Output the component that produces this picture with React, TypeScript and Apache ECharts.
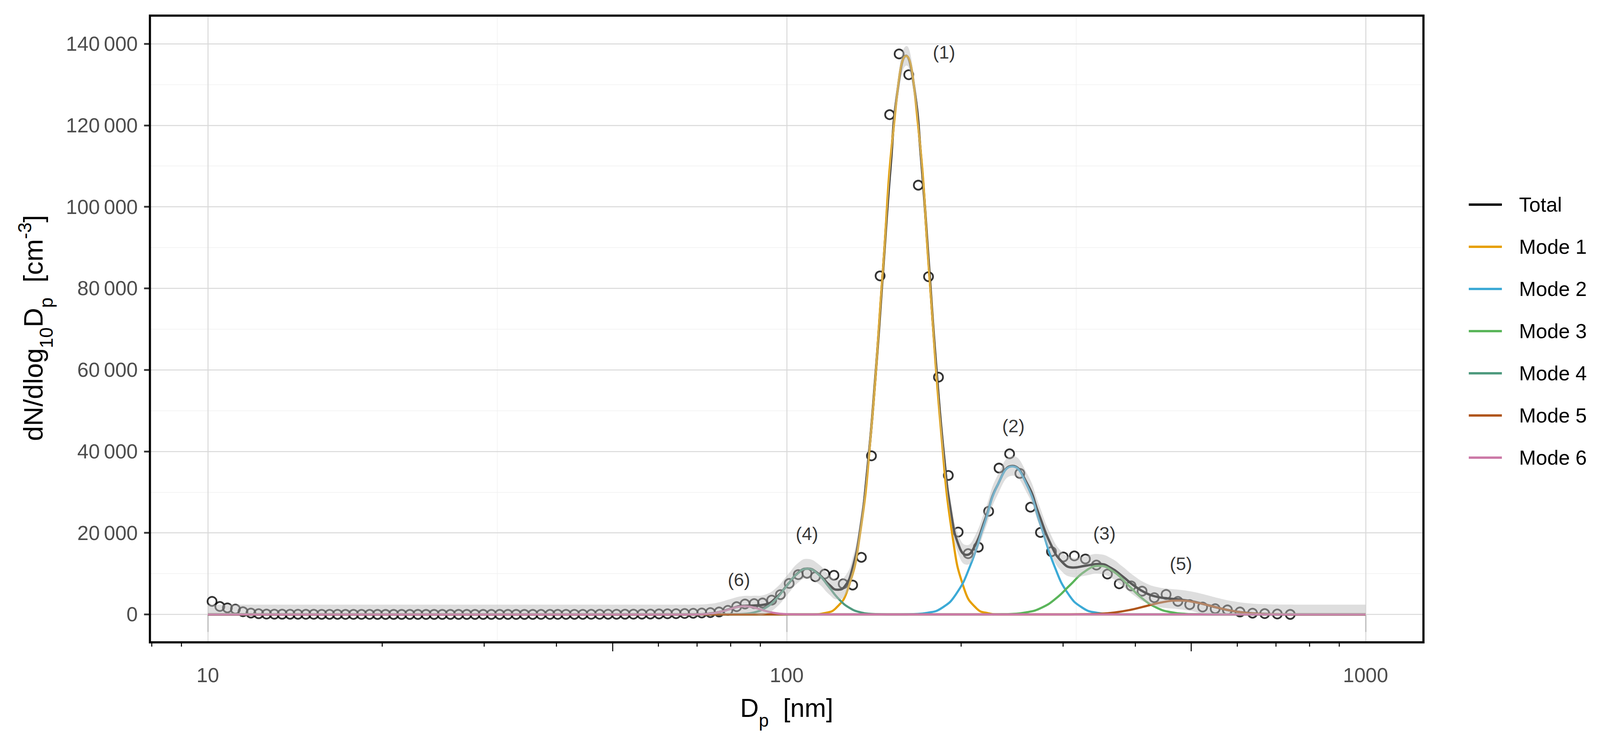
import React, { useEffect, useRef } from 'react'
import * as echarts from 'echarts'

// measured dN/dlog10Dp, open circles (Dp in nm)
const pointDiameters = [
  10.17, 10.49, 10.81, 11.16, 11.5, 11.87, 12.24, 12.63, 13.03, 13.44, 13.87, 14.31, 14.77, 15.24, 15.73, 16.23,
  16.75, 17.29, 17.85, 18.43, 19.03, 19.64, 20.28, 20.94, 21.62, 22.33, 23.06, 23.82, 24.6, 25.41, 26.24, 27.11,
  28.01, 28.94, 29.9, 30.89, 31.92, 32.99, 34.09, 35.23, 36.42, 37.64, 38.99, 40.22, 41.57, 42.98, 44.44, 45.95,
  47.52, 49.14, 50.82, 52.56, 54.36, 56.23, 58.16, 60.17, 62.24, 64.4, 66.63, 68.94, 71.33, 73.82, 76.43, 79.14,
  81.94, 84.72, 87.85, 90.83, 94.2, 97.53, 101.0, 104.7, 108.4, 112.1, 116.3, 120.7, 125.2, 130.0, 134.6, 140.1,
  145.0, 150.6, 156.4, 162.5, 168.8, 175.8, 182.9, 190.2, 197.8, 205.8, 214.3, 223.3, 232.7, 242.7, 252.8, 263.8,
  274.4, 286.7, 300.5, 314.0, 328.1, 342.8, 358.2, 375.4, 393.5, 411.1, 431.5, 452.3, 474.0, 496.8, 523.0, 549.8,
  577.2, 606.8, 637.9, 669.5, 703.9, 741.1,
]
const pointValues = [
  3200, 1950, 1600, 1300, 650, 330, 170, 80, 60, 50, 40, 40, 30, 30, 20, 20,
  20, 10, 10, 10, 10, 0, 0, 0, 0, 0, 0, 0, 0, 0, 0, 0,
  0, 0, 0, 0, 0, 0, 0, 0, 0, 10, 10, 10, 20, 20, 20, 30,
  30, 40, 40, 50, 60, 70, 90, 120, 150, 180, 220, 280, 350, 450, 600, 1000,
  1900, 2550, 2650, 2800, 3500, 4850, 7600, 9750, 10100, 9250, 9900, 9600, 7500, 7200, 14000, 38900,
  83050, 122600, 137500, 132400, 105300, 82850, 58200, 34100, 20200, 14900, 16500, 25300, 35900, 39400, 34600, 26300,
  20100, 15400, 14100, 14350, 13600, 12100, 9900, 7500, 7000, 5700, 4100, 4900, 3200, 2400, 1800, 1400,
  1100, 600, 300, 200, 100, 0,
]

// fitted modes
const mode1Diameters = [10, 110.8, 116.0, 121.6, 127.4, 133.5, 139.8, 146.4, 153.4, 160.8, 168.4, 176.4, 184.9, 193.7, 202.9, 212.6, 222.7, 233.3, 1000]
const mode1Values = [0, 0, 300, 1520, 6010, 18540, 44480, 83090, 120900, 137000, 120900, 83090, 44480, 18540, 6010, 1520, 300, 0, 0]
const mode2Diameters = [10, 156.7, 165.7, 175.3, 185.4, 196.0, 207.3, 219.3, 231.9, 245.3, 259.4, 274.4, 290.2, 306.9, 324.6, 343.3, 363.1, 384.1, 1000]
const mode2Values = [0, 0, 80, 400, 1590, 4910, 11790, 22020, 32030, 36300, 32030, 22020, 11790, 4910, 1590, 400, 80, 0, 0]
const mode3Diameters = [10, 218.6, 231.6, 245.3, 259.8, 275.3, 291.5, 308.8, 327.1, 346.5, 367.0, 388.8, 411.9, 436.2, 462.1, 489.5, 518.4, 549.1, 1000]
const mode3Values = [0, 0, 26, 130, 520, 1610, 3860, 7220, 10500, 11900, 10500, 7220, 3860, 1610, 520, 130, 26, 0, 0]
const mode4Diameters = [10, 77.36, 80.71, 84.22, 87.86, 91.67, 95.64, 99.77, 104.1, 108.6, 113.3, 118.2, 123.3, 128.7, 134.3, 140.1, 146.1, 152.5, 1000]
const mode4Values = [0, 0, 25, 124, 492, 1515, 3637, 6793, 9884, 11200, 9884, 6793, 3637, 1515, 492, 124, 25, 0, 0]
const mode5Diameters = [10, 284.1, 303.0, 323.1, 344.7, 367.6, 392.0, 418.1, 445.9, 475.5, 507.2, 540.9, 576.8, 615.1, 656.0, 699.6, 746.0, 795.6, 1000]
const mode5Values = [0, 0, 7, 38, 149, 460, 1104, 2062, 3000, 3400, 3000, 2062, 1104, 460, 149, 38, 7, 0, 0]
const mode6Diameters = [10, 65.6, 67.7, 69.9, 72.2, 74.5, 76.9, 79.4, 81.9, 84.6, 87.3, 90.1, 93.1, 96.1, 99.2, 102.4, 105.7, 109.1, 1000]
const mode6Values = [0, 0, 4, 22, 88, 271, 649, 1213, 1765, 2000, 1765, 1213, 649, 271, 88, 22, 4, 0, 0]

// total fit and its uncertainty band
const totalDiameters = [
  10, 61.83, 66.69, 69.78, 73.04, 76.43, 79.99, 83.7, 87.59, 91.66, 95.93, 100.4, 105.0, 108.6, 113.3, 118.6,
  122.2, 126.0, 129.8, 133.8, 137.9, 142.2, 146.6, 151.1, 155.7, 160.8, 165.5, 170.6, 175.8, 181.2, 186.8, 192.5,
  198.5, 204.6, 210.9, 220.6, 230.9, 245.3, 260.6, 272.7, 285.4, 298.7, 312.6, 327.0, 346.5, 363.7, 380.6, 398.3,
  416.8, 436.1, 456.4, 477.6, 499.8, 523.0, 555.7, 590.4, 627.3, 666.5, 708.1, 752.4, 1000,
]
const totalValues = [
  0, 0, 2, 21, 139, 562, 1374, 2072, 2171, 2417, 4118, 7331, 10378, 11220, 10003, 7210,
  6052, 6882, 11113, 20318, 35790, 57612, 83785, 109700, 129250, 137030, 130700, 112250, 86930, 60950, 39364, 24577,
  16722, 14600, 16550, 23630, 31470, 36430, 31930, 24570, 17450, 12940, 11497, 11893, 12381, 11354, 9311, 7037,
  5295, 4325, 3909, 3641, 3228, 2604, 1634, 826, 335, 109, 28, 6, 0,
]
const bandLower = [
  0, 0, 0, 0, 0, 0, 0, 0, 0, 17, 1718, 4931, 7978, 8820, 7603, 4810,
  3652, 4482, 8713, 17918, 33390, 55212, 81385, 107300, 126850, 134630, 128300, 109850, 84530, 58550, 36964, 22177,
  14322, 12200, 14150, 21230, 29070, 34030, 29530, 22170, 15050, 10540, 9097, 9493, 9981, 8954, 6911, 4637,
  2895, 1925, 1509, 1241, 828, 204, 0, 0, 0, 0, 0, 0, 0,
]
const bandUpper = [
  2400, 2400, 2402, 2421, 2539, 2962, 3774, 4472, 4571, 4817, 6518, 9731, 12778, 13620, 12403, 9610,
  8452, 9282, 13513, 22718, 38190, 60012, 86185, 112100, 131650, 139430, 133100, 114650, 89330, 63350, 41764, 26977,
  19122, 17000, 18950, 26030, 33870, 38830, 34330, 26970, 19850, 15340, 13897, 14293, 14781, 13754, 11711, 9437,
  7695, 6725, 6309, 6041, 5628, 5004, 4034, 3226, 2735, 2509, 2428, 2406, 2400,
]

const modeNames = ['Mode 1', 'Mode 2', 'Mode 3', 'Mode 4', 'Mode 5', 'Mode 6']
const modeColors = ['#E69F00', '#3CAAD6', '#5AB55A', '#4F9A7F', '#B0561C', '#CC79A7']
const modeDiameters = [mode1Diameters, mode2Diameters, mode3Diameters, mode4Diameters, mode5Diameters, mode6Diameters]
const modeValues = [mode1Values, mode2Values, mode3Values, mode4Values, mode5Values, mode6Values]

// peak annotations
const labelDiameters = [187.0, 246.4, 353.9, 108.4, 479.8, 82.7]
const labelValues = [137900, 46300, 19900, 19800, 12500, 8500]
const labelTexts = ['(1)', '(2)', '(3)', '(4)', '(5)', '(6)']

// axes
const xMajorTicks = [10, 100, 1000]
const xMajorLabels = ['10', '100', '1000']
const xMidTicks = [50, 500]
const xMinorTicks = [8, 9, 20, 30, 40, 60, 70, 80, 90, 200, 300, 400, 600, 700, 800, 900]
const xMinorGrid = [31.62, 316.2]
const yTickValues = [0, 20000, 40000, 60000, 80000, 100000, 120000, 140000]
const yTickLabels = ['0', '20\u2009000', '40\u2009000', '60\u2009000', '80\u2009000', '100\u2009000', '120\u2009000', '140\u2009000']
const yMinorGrid = [10000, 30000, 50000, 70000, 90000, 110000, 130000]

const FONT = 'Liberation Sans'

function pairs(xs: number[], ys: number[]) {
  return xs.map((x, i) => [x, ys[i]])
}

function SizeDistributionChart() {
  const chartRef = useRef<HTMLDivElement>(null)

  useEffect(() => {
    const el = chartRef.current as HTMLDivElement
    const chart = echarts.init(el, null, { renderer: 'svg' })

    // layout was measured on a 4205 px wide figure; follow the real width
    const sx = el.clientWidth / 4205
    const grid = { left: 394 * sx, top: 40, width: 3347 * sx, height: 1605 }
    const xMin = 7.943
    const xMax = 1258.9

    const baseX = {
      type: 'log',
      logBase: 10,
      min: xMin,
      max: xMax,
      position: 'bottom',
      axisLine: { show: false },
      splitLine: { show: false },
      minorTick: { show: false },
    }

    const gridLine = (color: string, width: number) => ({ color, width, type: 'solid' })

    const option = {
      animation: false,
      textStyle: { fontFamily: FONT },
      grid: { ...grid, show: false },
      xAxis: [
        {
          ...baseX,
          axisTick: { show: true, customValues: xMajorTicks, length: 45, lineStyle: { color: '#222', width: 3 } },
          axisLabel: {
            show: true,
            customValues: xMajorTicks,
            margin: 58,
            fontSize: 52,
            color: '#4D4D4D',
            fontFamily: FONT,
            formatter: (v: number) => {
              const i = xMajorTicks.findIndex((t) => Math.abs(t - v) < t * 1e-6)
              return i >= 0 ? xMajorLabels[i] : ''
            },
          },
        },
        {
          ...baseX,
          axisTick: { show: true, customValues: xMidTicks, length: 23, lineStyle: { color: '#222', width: 3 } },
          axisLabel: { show: false },
        },
        {
          ...baseX,
          axisTick: { show: true, customValues: xMinorTicks, length: 11, lineStyle: { color: '#222', width: 3 } },
          axisLabel: { show: false },
        },
      ],
      yAxis: {
        type: 'value',
        min: -6850,
        max: 146900,
        axisLine: { show: false },
        splitLine: { show: false },
        axisTick: { show: true, customValues: yTickValues, length: 15, lineStyle: { color: '#333', width: 4.5 } },
        axisLabel: {
          customValues: yTickValues,
          margin: 31,
          fontSize: 52,
          color: '#4D4D4D',
          fontFamily: FONT,
          formatter: (v: number) => {
            const i = yTickValues.indexOf(v)
            return i >= 0 ? yTickLabels[i] : ''
          },
        },
      },
      legend: {
        show: true,
        orient: 'vertical',
        left: 3855 * sx,
        top: 489,
        icon: 'rect',
        itemWidth: 87 * sx,
        itemHeight: 6,
        itemGap: 48,
        selectedMode: false,
        itemStyle: { borderWidth: 0 },
        data: ['Total', ...modeNames],
        textStyle: { fontSize: 52, color: '#000', fontFamily: FONT, lineHeight: 60, padding: [0, 0, 0, 40 * sx] },
      },
      graphic: [
        {
          type: 'rect',
          z: 100,
          silent: true,
          shape: { x: grid.left, y: grid.top, width: grid.width, height: grid.height },
          style: { fill: 'none', stroke: '#000', lineWidth: 5.5 },
        },
        {
          type: 'text',
          z: 100,
          x: 88 * sx,
          y: 840,
          rotation: Math.PI / 2,
          style: {
            text: '{m|dN/dlog}{s|10}{m|D}{s|p}{m|  [cm}{u|-3}{m|]}',
            align: 'center',
            verticalAlign: 'middle',
            fill: '#000',
            rich: {
              m: { fontSize: 69, fontFamily: FONT, lineHeight: 114, fill: '#000' },
              s: { fontSize: 48, fontFamily: FONT, height: 48, verticalAlign: 'bottom', fill: '#000' },
              u: { fontSize: 48, fontFamily: FONT, height: 69, verticalAlign: 'top', fill: '#000' },
            },
          },
        },
        {
          type: 'text',
          z: 100,
          x: grid.left + grid.width / 2,
          y: 1813,
          style: {
            text: '{m|D}{s|p}{m|  [nm]}',
            align: 'center',
            verticalAlign: 'middle',
            fill: '#000',
            rich: {
              m: { fontSize: 66, fontFamily: FONT, lineHeight: 110, fill: '#000' },
              s: { fontSize: 46, fontFamily: FONT, height: 46, verticalAlign: 'bottom', fill: '#000' },
            },
          },
        },
      ],
      series: [
        {
          // panel grid lines
          type: 'line',
          name: 'grid',
          data: [],
          silent: true,
          z: 1,
          markLine: {
            silent: true,
            z: 1,
            symbol: ['none', 'none'],
            label: { show: false },
            emphasis: { disabled: true },
            data: [
              ...yMinorGrid.map((v) => ({ yAxis: v, lineStyle: gridLine('#F1F1F1', 1.5) })),
              ...xMinorGrid.map((v) => ({ xAxis: v, lineStyle: gridLine('#F1F1F1', 1.5) })),
              ...yTickValues.map((v) => ({ yAxis: v, lineStyle: gridLine('#D9D9D9', 2.5) })),
              ...xMajorTicks.map((v) => ({ xAxis: v, lineStyle: gridLine('#D9D9D9', 2.5) })),
            ],
          },
        },
        {
          type: 'scatter',
          name: 'Measured',
          data: pairs(pointDiameters, pointValues),
          symbol: 'circle',
          symbolSize: 23,
          itemStyle: { color: 'rgba(0,0,0,0)', borderColor: '#000', borderWidth: 4.5 },
          silent: true,
          z: 2,
        },
        {
          type: 'line',
          name: 'Total',
          data: pairs(totalDiameters, totalValues),
          symbol: 'none',
          smooth: 0.5,
          lineStyle: { color: '#000', width: 6 },
          itemStyle: { color: '#000' },
          silent: true,
          z: 3,
        },
        ...modeNames.map((name, i) => ({
          type: 'line',
          name,
          data: pairs(modeDiameters[i], modeValues[i]),
          symbol: 'none',
          smooth: 0.5,
          lineStyle: { color: modeColors[i], width: 5.5 },
          itemStyle: { color: modeColors[i] },
          silent: true,
          z: 4 + i,
        })),
        {
          // confidence ribbon around the total fit
          type: 'custom',
          name: 'band',
          data: totalDiameters.map((d, i) => [d, bandLower[i], bandUpper[i]]),
          encode: { x: 0, y: [1, 2] },
          silent: true,
          z: 20,
          renderItem: (params: any, api: any) => {
            if (params.dataIndex !== 0) return null
            const upper = totalDiameters.map((d, i) => api.coord([d, bandUpper[i]]))
            const lower = totalDiameters.map((d, i) => api.coord([d, bandLower[i]])).reverse()
            // repeat the corner points so the smoothed outline keeps square ends
            const outline = [
              upper[0], ...upper, upper[upper.length - 1],
              lower[0], ...lower, lower[lower.length - 1],
            ]
            return {
              type: 'polygon',
              shape: { points: outline, smooth: 0.5 },
              style: { fill: 'rgba(186,186,186,0.48)', stroke: 'none' },
            }
          },
        },
        {
          type: 'scatter',
          name: 'labels',
          data: labelDiameters.map((d, i) => ({ value: [d, labelValues[i]], name: labelTexts[i] })),
          symbolSize: 0,
          silent: true,
          z: 30,
          label: {
            show: true,
            position: 'inside',
            formatter: '{b}',
            fontSize: 47,
            color: '#000',
            fontFamily: FONT,
          },
        },
      ],
    }

    chart.setOption(option as any)

    return () => {
      chart.dispose()
    }
  }, [])

  return (
    <div
      ref={chartRef}
      style={{ position: 'absolute', left: 0, top: 0, width: '100vw', height: '1890px', background: '#fff' }}
    ></div>
  )
}

export default function App() {
  return <SizeDistributionChart />
}
